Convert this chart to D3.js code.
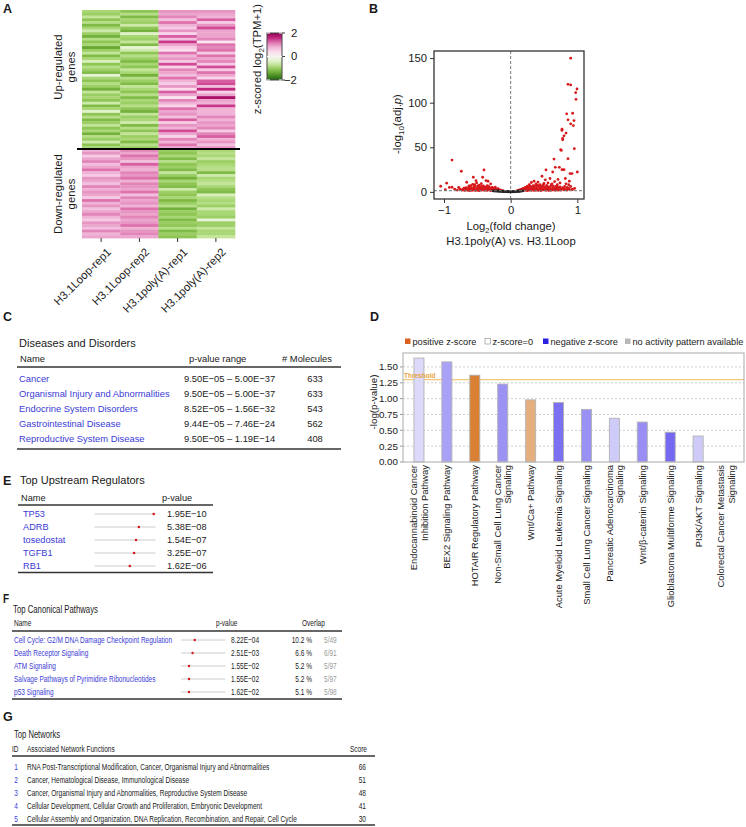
<!DOCTYPE html>
<html><head><meta charset="utf-8">
<script src="https://cdn.jsdelivr.net/npm/d3@7"></script>
<style>
body{margin:0;background:#fff;}
svg text{font-family:"Liberation Sans",Arial,Helvetica,sans-serif;fill:#1a1a1a;}
</style></head><body>
<svg id="c" width="746" height="827"></svg>
<script>
// ---------------- DATA ----------------
const heatmapSamples = ["H3.1Loop-rep1","H3.1Loop-rep2","H3.1poly(A)-rep1","H3.1poly(A)-rep2"];
const upGenes = [
[-0.9,-1.1,1.0,1.0],[-1.0,-0.8,0.9,0.9],[-0.7,-1.2,1.1,0.8],[-1.1,-0.9,0.7,1.3],[-0.8,-1.0,1.2,0.6],
[-1.2,-0.6,0.8,1.0],[-0.9,-1.1,0.6,1.4],[-0.6,-1.3,1.0,0.9],[-1.0,-0.4,0.5,0.9],[-1.3,-0.9,1.3,0.9],
[-0.8,-1.0,0.7,1.1],[-1.1,-0.7,1.5,0.3],[-0.9,-1.2,0.9,1.2],[-1.4,-0.3,0.6,1.1],[-1.0,-0.6,0.4,1.2],
[-0.7,-1.1,1.2,0.6],[-1.2,-0.8,0.8,1.2],[-0.9,-1.0,1.0,0.9],[-0.5,-1.2,0.6,1.1],[-1.1,-0.9,1.4,0.6],
[-0.8,-1.1,0.5,1.4],[-1.0,-0.7,1.1,0.6],[-1.2,-0.9,0.9,1.2],[-0.3,-1.3,0.7,0.9],[-0.9,-0.8,1.2,0.5],
[-1.1,-1.0,0.8,1.3],[-0.8,-1.2,0.6,1.4],[-1.0,-0.7,1.0,0.7],[-1.3,-0.9,0.4,1.6],[-0.7,-1.1,1.3,0.5],
[-1.0,-0.8,0.9,0.9],[-0.9,-1.2,0.3,1.8],[-1.1,-0.9,1.1,0.9],[-0.6,-1.0,0.8,0.8],[-1.2,-0.8,0.5,1.5],
[-0.9,-1.1,1.2,0.8],[-0.4,-1.3,0.9,0.8],[-1.1,-0.7,1.0,0.8],[-0.8,-1.0,0.7,1.1],[-1.2,-0.9,1.3,0.8],
[-1.0,-0.6,0.6,1.0],[-0.7,-1.2,1.0,0.9],[-1.1,-0.8,0.8,1.1],[-0.9,-1.1,1.4,0.6],[-1.3,-0.7,0.9,1.1],
[-0.8,-1.0,0.5,1.3],[-1.0,-0.9,1.1,0.8],[-0.6,-1.2,0.8,1.0],[-1.1,-0.8,1.2,0.7],[-0.9,-1.0,0.9,1.0]
];
const downGenes = [
[0.8,1.1,-1.0,-0.9],[1.0,0.9,-1.1,-0.8],[0.6,1.2,-0.9,-0.9],[0.9,1.0,-1.2,-0.7],[1.1,0.7,-0.8,-1.0],
[0.7,1.3,-1.1,-0.9],[0.9,0.9,-1.0,-0.8],[1.2,0.8,-1.2,-0.8],[0.8,1.1,-0.7,-1.2],[0.6,1.0,-1.0,-0.6],
[1.0,1.2,-1.3,-0.9],[0.9,0.8,-0.9,-0.8],[0.7,1.1,-1.1,-0.7],[1.1,1.0,-1.2,-0.9],[0.8,0.9,-0.6,-1.1],
[1.0,1.2,-1.0,-1.2],[0.9,0.7,-1.1,-0.5],[0.6,1.1,-0.9,-0.8],[1.2,0.9,-1.2,-0.9],[0.8,1.0,-1.0,-0.8],
[1.0,0.8,-0.8,-1.0],[0.7,1.2,-1.3,-0.6],[0.9,1.0,-1.0,-0.9],[1.1,0.9,-1.1,-0.9],[0.8,1.1,-0.9,-1.0],
[0.6,0.9,-1.2,-0.3],[1.0,1.0,-1.0,-1.0],[0.9,1.2,-1.1,-1.0],[0.7,0.8,-0.8,-0.7],[1.1,1.0,-1.2,-0.9],
[0.8,1.1,-1.0,-0.9],[0.9,0.9,-1.1,-0.7]
];
const colorbarTicks = [2,0,-2];

const volcanoSig = [
[-1.05,6.3],[-0.96,9.8],[-0.92,5.0],[-0.88,5.2],[-0.88,35.7],[-0.78,5.0],[-0.74,23.1],[-0.76,3.2],[-0.72,2.5],[-0.70,4.1],
[-0.68,2.0],[-0.66,10.8],[-0.65,3.5],[-0.63,5.8],[-0.62,2.4],[-0.60,7.1],[-0.59,3.0],[-0.58,1.8],[-0.56,16.4],[-0.55,4.5],
[-0.54,2.7],[-0.53,6.4],[-0.52,3.3],[-0.51,10.0],[-0.50,2.1],[-0.49,5.2],[-0.48,3.9],[-0.47,7.6],[-0.46,2.6],[-0.45,4.8],
[-0.44,1.9],[-0.43,6.0],[-0.42,16.4],[-0.41,3.4],[-0.40,24.6],[-0.39,5.5],[-0.38,2.3],[-0.37,12.7],[-0.36,4.2],[-0.35,7.0],
[-0.34,11.9],[-0.33,3.1],[-0.32,5.0],[-0.31,2.0],[-0.30,8.9],[-0.29,3.6],[-0.28,2.4],[-0.27,4.4],[-0.26,1.8],[-0.25,3.0],
[-0.24,2.2],[-0.23,5.3],[-0.22,1.7],[-0.21,2.8],[-0.20,1.9],[-0.19,3.5],[-0.18,1.6],[-0.17,2.3],[-0.16,1.5],[-0.15,2.0],
[-0.14,1.6],[-0.12,1.5],[-0.57,8.5],[-0.53,1.6],[-0.47,1.5],[-0.44,9.2],[-0.39,1.7],[-0.35,1.6],[-0.30,1.5],[-0.69,1.6],
[-0.64,1.7],[-0.61,4.0],[-0.52,12.5],[-0.48,2.0],
[-0.73,1.9],[-0.71,3.0],[-0.67,4.6],[-0.66,2.2],[-0.64,3.0],[-0.62,6.6],[-0.60,1.7],[-0.59,4.8],[-0.57,3.0],[-0.56,2.0],
[-0.55,6.0],[-0.54,8.0],[-0.52,1.9],[-0.50,4.0],[-0.49,6.8],[-0.48,1.6],[-0.46,5.6],[-0.45,2.9],[-0.44,3.6],[-0.43,2.2],
[-0.42,4.0],[-0.41,6.8],[-0.40,2.0],[-0.38,3.4],[-0.37,5.2],[-0.36,2.4],[-0.34,3.8],[-0.33,6.1],[-0.32,2.6],[-0.31,4.0],
[-0.29,2.0],[-0.28,4.9],[-0.27,2.6],[-0.26,3.5],[-0.25,2.0],[-0.24,4.0],[-0.22,2.6],[-0.21,1.6],[-0.19,2.4],[-0.17,1.8],
[-0.80,2.0],[-0.84,3.0],[-0.98,2.5],[-0.62,1.5],[-0.58,2.5],
[0.10,1.5],[0.12,1.8],[0.13,1.6],[0.15,2.4],[0.16,1.7],[0.17,3.0],[0.18,2.0],[0.19,4.0],[0.20,2.6],[0.21,1.8],
[0.22,5.0],[0.23,3.2],[0.24,2.1],[0.25,6.3],[0.26,3.8],[0.27,2.4],[0.28,8.0],[0.29,4.4],[0.30,2.8],[0.31,10.5],
[0.32,5.2],[0.33,3.1],[0.34,7.0],[0.35,12.0],[0.36,4.0],[0.37,2.2],[0.38,9.0],[0.39,5.5],[0.40,3.0],[0.41,11.0],
[0.42,6.5],[0.43,2.5],[0.44,8.2],[0.45,4.6],[0.46,3.2],[0.47,17.5],[0.48,6.0],[0.49,2.2],[0.50,9.5],[0.51,4.0],
[0.52,13.5],[0.53,24.6],[0.54,7.2],[0.55,3.0],[0.56,10.0],[0.57,5.0],[0.58,2.4],[0.59,15.0],[0.60,6.5],[0.61,3.6],
[0.62,9.0],[0.63,22.3],[0.64,4.5],[0.65,36.8],[0.66,11.5],[0.67,27.5],[0.68,6.0],[0.69,3.0],[0.70,8.0],[0.71,14.0],
[0.72,4.8],[0.73,27.5],[0.74,10.0],[0.75,47.3],[0.76,46.5],[0.77,24.9],[0.77,70.3],[0.77,68.9],[0.78,58.4],[0.78,59.9],
[0.80,62.9],[0.80,24.9],[0.82,15.0],[0.83,65.9],[0.84,87.5],[0.85,5.0],[0.86,37.2],[0.86,80.8],[0.86,120.6],[0.87,8.0],
[0.88,12.0],[0.89,20.5],[0.90,76.3],[0.90,150.0],[0.90,119.9],[0.92,20.5],[0.93,88.2],[0.94,74.4],[0.95,80.0],[0.955,48.4],
[0.975,111.3],[0.98,103.8],[0.995,115.4],[1.0,22.3],[0.79,3.0],[0.81,6.0],[0.84,2.0],[0.67,1.8],[0.57,1.6],[0.45,1.5],
[0.35,1.6],[0.25,1.5],[0.62,2.0],[0.72,2.0],[0.92,2.5],[0.96,4.0],[0.88,3.0],[0.76,3.6],[0.53,1.9],[0.41,1.7],[0.31,1.8],
[0.11,1.7],[0.14,2.1],[0.16,2.9],[0.18,1.6],[0.20,3.6],[0.22,2.2],[0.23,4.4],[0.24,1.7],[0.26,2.6],[0.27,5.2],
[0.28,1.8],[0.29,3.0],[0.30,6.0],[0.32,2.2],[0.33,4.8],[0.34,2.5],[0.36,6.8],[0.37,3.6],[0.38,1.9],[0.39,2.8],
[0.40,7.5],[0.42,2.0],[0.43,4.0],[0.44,2.8],[0.45,6.5],[0.46,1.8],[0.48,3.5],[0.49,8.0],[0.50,2.6],[0.51,5.5],
[0.52,2.0],[0.54,3.8],[0.55,6.0],[0.56,2.2],[0.58,4.5],[0.59,3.0],[0.60,1.8],[0.61,8.0],[0.63,3.0],[0.64,6.5],
[0.65,2.2],[0.66,4.0],[0.68,2.8],[0.69,6.0],[0.70,2.0],[0.71,4.5],[0.73,2.6],[0.74,5.6],[0.75,1.9],[0.78,4.6],
[0.80,2.2],[0.82,3.2],[0.83,9.0],[0.85,2.4],[0.87,4.0],[0.90,6.0],[0.93,3.0]
];
const volcanoNS = [
[-0.26,1.1],[-0.24,0.9],[-0.22,1.0],[-0.20,0.8],[-0.18,0.7],[-0.16,0.6],[-0.14,0.5],[-0.12,0.4],[-0.10,0.3],[-0.08,0.25],
[-0.06,0.2],[-0.04,0.15],[-0.02,0.1],[0,0.05],[0.02,0.1],[0.04,0.15],[0.06,0.2],[0.08,0.3],[0.10,0.4],[0.12,0.5],
[0.14,0.7],[0.16,0.9],[0.18,1.1],[-0.19,1.2],[-0.15,0.9],[0.13,1.0],[-0.11,0.7],[0.09,0.6],[-0.05,0.4],[0.05,0.35],
[0.0,0.2],[-0.03,0.3],[0.03,0.25]
];
const volcanoXTicks = [-1,0,1];
const volcanoYTicks = [0,50,100,150];

const diseaseNames = ["Cancer","Organismal Injury and Abnormalities","Endocrine System Disorders","Gastrointestinal Disease","Reproductive System Disease"];
const diseasePRange = ["9.50E\u221205 \u2013 5.00E\u221237","9.50E\u221205 \u2013 5.00E\u221237","8.52E\u221205 \u2013 1.56E\u221232","9.44E\u221205 \u2013 7.46E\u221224","9.50E\u221205 \u2013 1.19E\u221214"];
const diseaseMolecules = [633,633,543,562,408];

const pathwayNames = [["Endocannabinoid Cancer","Inhibition Pathway"],["BEX2 Signaling Pathway"],["HOTAIR Regulatory Pathway"],["Non-Small Cell Lung Cancer","Signaling"],["Wnt/Ca+ Pathway"],["Acute Myeloid Leukemia Signaling"],["Small Cell Lung Cancer Signaling"],["Pancreatic Adenocarcinoma","Signaling"],["Wnt/\u03b2-catenin Signaling"],["Glioblastoma Multiforme Signaling"],["PI3K/AKT Signaling"],["Colorectal Cancer Metastasis","Signaling"]];
const pathwayLogP = [1.64,1.58,1.37,1.23,0.98,0.94,0.83,0.69,0.63,0.47,0.41,0];
const pathwayZ = [-0.35,-1.09,1.9,-1.29,1.1,-1.75,-1.3,-0.54,-1.34,-1.84,-0.54,null];
const pathwayYTicks = [0,0.25,0.5,0.75,1.0,1.25,1.5];
const pathwayThreshold = 1.3;
const legendItems = ["positive z-score","z-score=0","negative z-score","no activity pattern available"];

const regulatorNames = ["TP53","ADRB","tosedostat","TGFB1","RB1"];
const regulatorP = [1.95e-10,5.38e-8,1.54e-7,3.25e-7,1.62e-6];

const canonicalNames = ["Cell Cycle: G2/M DNA Damage Checkpoint Regulation","Death Receptor Signaling","ATM Signaling","Salvage Pathways of Pyrimidine Ribonucleotides","p53 Signaling"];
const canonicalP = [8.22e-4,2.51e-3,1.55e-2,1.55e-2,1.62e-2];
const canonicalOverlapPct = [10.2,6.6,5.2,5.2,5.1];
const canonicalOverlapCount = ["5/49","6/91","5/97","5/97","5/98"];

const networkIds = [1,2,3,4,5];
const networkFunctions = ["RNA Post-Transcriptional Modification, Cancer, Organismal Injury and Abnormalities","Cancer, Hematological Disease, Immunological Disease","Cancer, Organismal Injury and Abnormalities, Reproductive System Disease","Cellular Development, Cellular Growth and Proliferation, Embryonic Development","Cellular Assembly and Organization, DNA Replication, Recombination, and Repair, Cell Cycle"];
const networkScores = [66,51,48,41,30];

// ---------------- HELPERS ----------------
const svg = d3.select("#c");
const BLUE = "#3b3bd6";
function letter(t,x,y){svg.append("text").attr("x",x).attr("y",y).attr("font-size",12.5).attr("font-weight","bold").text(t);}
function txt(g,x,y,s,fs,anchor,fill){return g.append("text").attr("x",x).attr("y",y).attr("font-size",fs).attr("text-anchor",anchor||"start").style("fill",fill||"#1a1a1a").text(s);}
function ctxt(g,x,y,s,fs,sx,anchor,fill){return g.append("text").attr("transform",`translate(${x},${y}) scale(${sx},1)`).attr("font-size",fs).attr("text-anchor",anchor||"start").style("fill",fill||"#1a1a1a").text(s);}
function hline(g,x1,x2,y,w,c){g.append("line").attr("x1",x1).attr("x2",x2).attr("y1",y).attr("y2",y).attr("stroke",c||"#333").attr("stroke-width",w);}
function fmtP(v){return v.toExponential(2).toUpperCase().replace("E-","E\u2212").replace(/E\u2212(\d)$/,"E\u22120$1");}

// ---------------- PANEL A ----------------
letter("A",3,13);
const gA = svg.append("g");
const hmX = d3.scaleBand().domain(heatmapSamples).range([82,235]);
const upY = d3.scaleBand().domain(d3.range(upGenes.length)).range([10,149]);
const downY = d3.scaleBand().domain(d3.range(downGenes.length)).range([149,238]);
const hmColor = d3.scaleSequential(d3.interpolatePiYG).domain([2,-2]).clamp(true);
function drawRows(rows, yScale){
  rows.forEach((r,i)=>{
    r.forEach((v,j)=>{
      gA.append("rect").attr("x",hmX(heatmapSamples[j])).attr("y",yScale(i))
        .attr("width",hmX.bandwidth()+0.3).attr("height",yScale.bandwidth()+0.4)
        .attr("fill",hmColor(v));
    });
  });
}
drawRows(upGenes, upY);
drawRows(downGenes, downY);
gA.append("line").attr("x1",77).attr("x2",240).attr("y1",149).attr("y2",149).attr("stroke","#000").attr("stroke-width",2.2);
heatmapSamples.forEach(s=>{
  const cx = hmX(s)+hmX.bandwidth()/2;
  gA.append("line").attr("x1",cx).attr("x2",cx).attr("y1",238).attr("y2",242).attr("stroke","#333");
  gA.append("text").attr("transform",`translate(${cx+5},${247}) rotate(-45)`).attr("text-anchor","end").attr("dy","0.71em").attr("font-size",11.3).text(s);
});
[["Up-regulated","genes",67],["Down-regulated","genes",194]].forEach(d=>{
  const t = gA.append("text").attr("transform",`translate(62,${d[2]}) rotate(-90)`).attr("text-anchor","middle").attr("font-size",11.3);
  t.append("tspan").attr("x",0).attr("y",0).text(d[0]);
  t.append("tspan").attr("x",0).attr("y",13).text(d[1]);
});
// colorbar
const cbY = d3.scaleLinear().domain([2,-2]).range([33,80]);
const defs = svg.append("defs");
const grad = defs.append("linearGradient").attr("id","cbg").attr("x1",0).attr("x2",0).attr("y1",0).attr("y2",1);
d3.range(0,1.001,0.1).forEach(t=>grad.append("stop").attr("offset",t).attr("stop-color",hmColor(2-4*t)));
gA.append("rect").attr("x",267).attr("y",cbY(2)).attr("width",15).attr("height",cbY(-2)-cbY(2)).attr("fill","url(#cbg)").attr("stroke","#444").attr("stroke-width",1);
colorbarTicks.forEach(v=>{
  gA.append("line").attr("x1",282).attr("x2",285).attr("y1",cbY(v)).attr("y2",cbY(v)).attr("stroke","#444");
  gA.append("line").attr("x1",267).attr("x2",270).attr("y1",cbY(v)).attr("y2",cbY(v)).attr("stroke","#fff");
  gA.append("line").attr("x1",279).attr("x2",282).attr("y1",cbY(v)).attr("y2",cbY(v)).attr("stroke","#fff");
  gA.append("text").attr("x",v<0?284:291).attr("y",cbY(v)).attr("dy","0.35em").attr("font-size",11.3).text(v<0?"\u2212"+(-v):v);
});
const cbl = gA.append("text").attr("transform","translate(261,59) rotate(-90)").attr("text-anchor","middle").attr("font-size",11.3);
cbl.append("tspan").text("z-scored log");
cbl.append("tspan").attr("font-size",8).attr("dy",3).text("2");
cbl.append("tspan").attr("dy",-3).text("(TPM+1)");

// ---------------- PANEL B ----------------
letter("B",369,13);
const gB = svg.append("g");
const vx = d3.scaleLinear().domain([-1.15,1.1]).range([434,584]);
const vy = d3.scaleLinear().domain([-8,158]).range([199,51]);
gB.append("line").attr("x1",vx(0)).attr("x2",vx(0)).attr("y1",51).attr("y2",199).attr("stroke","#777").attr("stroke-dasharray","3,2");
gB.selectAll("circle.sig").data(volcanoSig).enter().append("circle").attr("cx",d=>vx(d[0])).attr("cy",d=>vy(d[1])).attr("r",1.4).attr("fill","#d7191c");
gB.selectAll("circle.ns").data(volcanoNS).enter().append("circle").attr("cx",d=>vx(d[0])).attr("cy",d=>vy(d[1])).attr("r",1.4).attr("fill","#222");
gB.append("line").attr("x1",434).attr("x2",584).attr("y1",vy(1.3)).attr("y2",vy(1.3)).attr("stroke","#777").attr("stroke-dasharray","3,2");
gB.append("rect").attr("x",434).attr("y",51).attr("width",150).attr("height",148).attr("fill","none").attr("stroke","#333").attr("stroke-width",1.3);
const axL = gB.append("g").attr("transform","translate(434,0)").call(d3.axisLeft(vy).tickValues(volcanoYTicks).tickSize(4));
const axB = gB.append("g").attr("transform","translate(0,199)").call(d3.axisBottom(vx).tickValues(volcanoXTicks).tickSize(4).tickFormat(d=>d<0?"\u2212"+(-d):d));
[axL,axB].forEach(a=>{a.select(".domain").remove();a.selectAll("text").attr("font-size",11.3).attr("font-family",null).style("fill","#1a1a1a");a.selectAll("line").attr("stroke","#333");});
const xt = gB.append("text").attr("x",511).attr("y",230).attr("text-anchor","middle").attr("font-size",11.3);
xt.append("tspan").text("Log");xt.append("tspan").attr("font-size",7.5).attr("dy",2.5).text("2");xt.append("tspan").attr("dy",-2.5).text("(fold change)");
txt(gB,511,245,"H3.1poly(A) vs. H3.1Loop",11.3,"middle");
const yt = gB.append("text").attr("transform","translate(401,124) rotate(-90)").attr("text-anchor","middle").attr("font-size",11.3);
yt.append("tspan").text("-log");yt.append("tspan").attr("font-size",8).attr("dy",3).text("10");yt.append("tspan").attr("dy",-3).text("(adj.");
yt.append("tspan").attr("font-style","italic").text("p");yt.append("tspan").text(")");

// ---------------- PANEL C ----------------
letter("C",3,321);
const gC = svg.append("g");
txt(gC,19,347,"Diseases and Disorders",11);
txt(gC,20,362,"Name",9.4);
txt(gC,189,362,"p-value range",9.4);
txt(gC,282,362,"# Molecules",9.4);
hline(gC,17,341,367,1.7);
const cY = d3.scaleBand().domain(d3.range(diseaseNames.length)).range([371,446]);
diseaseNames.forEach((n,i)=>{
  const y = cY(i)+cY.bandwidth()/2+3.4;
  txt(gC,19,y,n,9.4,"start",BLUE);
  txt(gC,184,y,diseasePRange[i],9.4);
  txt(gC,315,y,diseaseMolecules[i],9.4,"middle");
});
hline(gC,17,341,449,1.7);

// ---------------- PANEL D ----------------
letter("D",370,321);
const gD = svg.append("g");
const dx = d3.scaleBand().domain(d3.range(pathwayNames.length)).range([405,740]).paddingInner(0.64).paddingOuter(0.32);
const dy = d3.scaleLinear().domain([0,1.72]).range([462,353]);
const negC = d3.scaleLinear().domain([0,2]).range(["#f4f4fc","#6a5cf0"]).clamp(true);
const posC = d3.scaleLinear().domain([0,2]).range(["#f7f0ea","#d67a2a"]).clamp(true);
function zColor(z){return z==null?"#bbb":(z<0?negC(-z):posC(z));}
// legend
const legendColors = ["#d9601e","#ffffff","#2a20e0","#b8b8b8"];
const legendX = [405,485,543,625];
legendItems.forEach((t,i)=>{
  gD.append("rect").attr("x",legendX[i]).attr("y",338.5).attr("width",5.5).attr("height",5.5).attr("fill",legendColors[i]).attr("stroke",i==1?"#999":"none").attr("stroke-width",0.7);
  txt(gD,legendX[i]+7.5,345,t,9.2);
});
pathwayYTicks.forEach(v=>{
  if(v>0) gD.append("line").attr("x1",403).attr("x2",744).attr("y1",dy(v)).attr("y2",dy(v)).attr("stroke","#cfcfcf").attr("stroke-dasharray","2,2");
  gD.append("line").attr("x1",400).attr("x2",403).attr("y1",dy(v)).attr("y2",dy(v)).attr("stroke","#999");
  txt(gD,398,dy(v)+3.4,v.toFixed(2),9.8,"end");
});
gD.append("line").attr("x1",403).attr("x2",744).attr("y1",dy(pathwayThreshold)).attr("y2",dy(pathwayThreshold)).attr("stroke","#f0c77c").attr("stroke-width",1.3);
pathwayLogP.forEach((v,i)=>{
  if(v>0) gD.append("rect").attr("x",dx(i)).attr("y",dy(v)).attr("width",dx.bandwidth()).attr("height",dy(0)-dy(v)).attr("fill",zColor(pathwayZ[i])).attr("stroke","#b3b3b3").attr("stroke-width",0.9);
});
gD.append("text").attr("x",404).attr("y",dy(pathwayThreshold)-2).attr("font-size",6.5).attr("font-weight","bold").style("fill","#e6a338").text("Threshold");
gD.append("rect").attr("x",403).attr("y",353).attr("width",341).attr("height",109).attr("fill","none").attr("stroke","#b8b8b8").attr("stroke-width",1.2);
pathwayNames.forEach((lines,i)=>{
  const cx = dx(i)+dx.bandwidth()/2;
  const t = gD.append("text").attr("transform",`translate(${cx},465) rotate(-90)`).attr("text-anchor","end").attr("font-size",9.4);
  lines.forEach((l,k)=>t.append("tspan").attr("x",0).attr("y",(k-(lines.length-1)/2)*10.5+3.4).text(l));
});
gD.append("text").attr("transform","translate(377,402) rotate(-90)").attr("text-anchor","middle").attr("font-size",9.8).text("-log(p-value)");

// ---------------- PANEL E ----------------
letter("E",3,485);
const gE = svg.append("g");
txt(gE,20,484,"Top Upstream Regulators",11);
txt(gE,21,501,"Name",9.2);
txt(gE,162,501,"p-value",9.2);
hline(gE,18,213,505,1.7);
const eY = d3.scaleBand().domain(d3.range(regulatorNames.length)).range([507.5,572.5]);
const eX = d3.scaleLinear().domain([0,10]).range([94.5,155.5]);
regulatorNames.forEach((n,i)=>{
  const cy = eY(i)+eY.bandwidth()/2;
  txt(gE,23,cy+3.3,n,9.2,"start",BLUE);
  gE.append("line").attr("x1",eX(0)).attr("x2",eX(10)).attr("y1",cy).attr("y2",cy).attr("stroke","#c8c8c8").attr("stroke-width",0.9);
  gE.append("circle").attr("cx",eX(-Math.log10(regulatorP[i]))).attr("cy",cy).attr("r",1.3).attr("fill","#d7191c");
  txt(gE,167,cy+3.3,fmtP(regulatorP[i]),9.2);
});
hline(gE,18,213,572.5,1.7);

// ---------------- PANEL F ----------------
svg.append("text").attr("transform","translate(3,603) scale(0.8,1)").attr("font-size",12.5).attr("font-weight","bold").text("F");
const gF = svg.append("g");
ctxt(gF,13,613,"Top Canonical Pathways",10.5,0.74);
ctxt(gF,14,626,"Name",9.2,0.71);
ctxt(gF,216,626,"p-value",9.2,0.71);
ctxt(gF,302,626,"Overlap",9.2,0.71);
hline(gF,12,342,631,1.7);
const fY = d3.scaleBand().domain(d3.range(canonicalNames.length)).range([633.5,698.5]);
const fX = d3.scaleLinear().domain([0,10]).range([181,225.5]);
canonicalNames.forEach((n,i)=>{
  const cy = fY(i)+fY.bandwidth()/2;
  ctxt(gF,14,cy+3.2,n,9.2,0.71,"start",BLUE);
  gF.append("line").attr("x1",fX(0)).attr("x2",fX(10)).attr("y1",cy).attr("y2",cy).attr("stroke","#c8c8c8").attr("stroke-width",0.9);
  gF.append("circle").attr("cx",fX(-Math.log10(canonicalP[i]))).attr("cy",cy).attr("r",1.2).attr("fill","#d7191c");
  ctxt(gF,231,cy+3.2,fmtP(canonicalP[i]),9.2,0.71);
  ctxt(gF,312,cy+3.2,canonicalOverlapPct[i].toFixed(1)+" %",9.2,0.71,"end");
  ctxt(gF,324,cy+3.2,canonicalOverlapCount[i],9.2,0.71,"start","#9a9a9a");
});
hline(gF,12,342,699,1.7);

// ---------------- PANEL G ----------------
letter("G",3,721);
const gG = svg.append("g");
ctxt(gG,14,738,"Top Networks",10.3,0.74);
ctxt(gG,12,752,"ID",9.2,0.71);
ctxt(gG,27,752,"Associated Network Functions",9.2,0.71);
ctxt(gG,367,752,"Score",9.2,0.71,"end");
hline(gG,12,375,756,1.7);
const gY = d3.scaleBand().domain(d3.range(networkIds.length)).range([760,825]);
networkIds.forEach((id,i)=>{
  const y = gY(i)+gY.bandwidth()/2+3.2;
  ctxt(gG,16,y,id,9.2,0.71,"middle",BLUE);
  ctxt(gG,27,y,networkFunctions[i],9.2,0.71);
  ctxt(gG,366,y,networkScores[i],9.2,0.71,"end");
});
hline(gG,12,375,825,1.7);
</script>
</body></html>
